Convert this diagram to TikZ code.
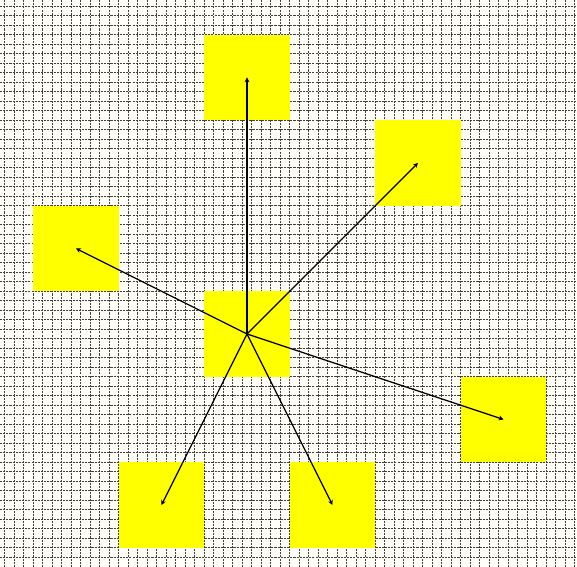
\documentclass[tikz,border=0pt]{standalone}
\usepackage{tikz}
\usetikzlibrary{arrows.meta, positioning}
\definecolor{paper}{RGB}{255,255,248}
\definecolor{boxyellow}{RGB}{255,255,0}
\tikzset{square/.style={rectangle,fill=boxyellow,minimum size=1cm,inner sep=0pt},
    link/.style={draw,black,line width=0.4pt,-{Stealth[length=1.6pt,width=1.6pt]}},
    gridline/.style={black!75,line width=0.3pt,dash pattern=on 0.7pt off 0.35pt}}

\begin{document}
\begin{tikzpicture}

% Background and grid
\fill[paper] (-2.889,-2.725) rectangle (3.860,3.906);
\useasboundingbox (-2.889,-2.725) rectangle (3.860,3.906);
\foreach \i in {-21,...,39}
  \draw[gridline] ({-0.5+\i/9},-2.725) -- ({-0.5+\i/9},3.906);
\foreach \j in {-19,...,39}
  \draw[gridline] (-2.889,{-0.5+\j/9}) -- (3.860,{-0.5+\j/9});

% The squares
\node[square] (hub) at (0,0) {};
\node[square] (top) at (0,3) {};
\node[square] (topright) at (2,2) {};
\node[square] (left) at (-2,1) {};
\node[square] (right) at (3,-1) {};
\node[square] (botleft) at (-1,-2) {};
\node[square] (botright) at (1,-2) {};

% Links from the hub
\foreach \n in {top, topright, left, right, botleft, botright}
  \draw[link] (hub.center) -- (\n.center);
\end{tikzpicture}
\end{document}
